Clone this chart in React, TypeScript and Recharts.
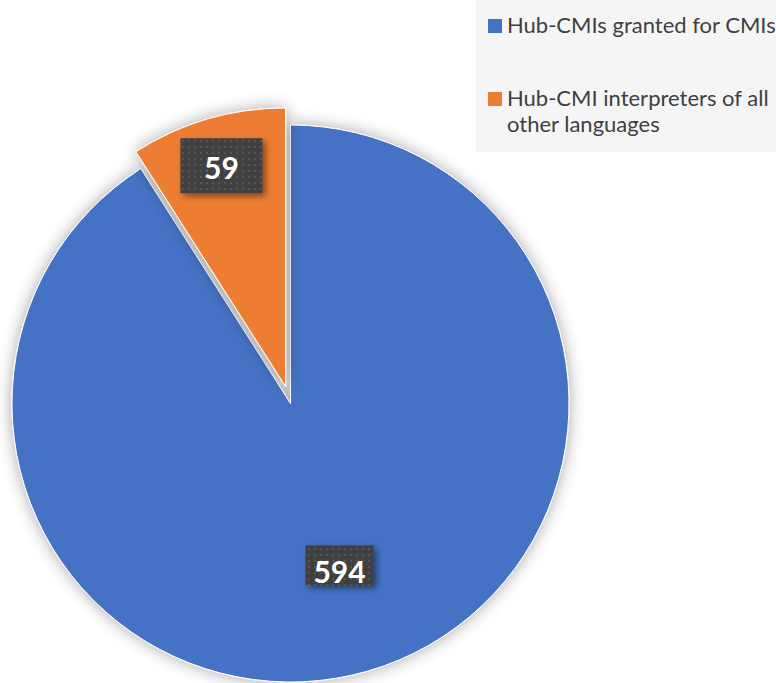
import { PieChart, Pie, Cell, Legend } from 'recharts';

const categories = ['Hub-CMIs granted for CMIs', 'Hub-CMI interpreters of all other languages'];
const values = [594, 59];
const colors = ['#4472C4', '#ED7D31'];

const data = categories.map((name, i) => ({ name, value: values[i] }));

const FONT = 'Lato, Calibri, "Open Sans", sans-serif';

// label placement (fraction of radius) and box size per slice
const labelRadius = [0.628, 0.822];
const boxSize = [
  { w: 68, h: 40, dy: -6 },
  { w: 82, h: 55, dy: -1 },
];

const makeLabel = (only: number) => (props: any) => {
  const { cx, cy, midAngle, outerRadius, index, value } = props;
  if (index !== only) return null;
  const RAD = Math.PI / 180;
  const r = outerRadius * labelRadius[index];
  const x = cx + r * Math.cos(-midAngle * RAD);
  const y = cy + r * Math.sin(-midAngle * RAD);
  const b = boxSize[index];
  return (
    <g>
      <rect
        x={x - b.w / 2}
        y={y - b.h / 2 + b.dy}
        width={b.w}
        height={b.h}
        fill="url(#dots)"
        filter="url(#boxShadow)"
      />
      <text
        x={x}
        y={y}
        textAnchor="middle"
        dominantBaseline="central"
        fill="#ffffff"
        fontFamily={FONT}
        fontWeight="bold"
        fontSize={30}
      >
        {value}
      </text>
    </g>
  );
};

const renderLegend = () => (
  <div
    style={{
      background: '#f5f5f5',
      width: 300,
      height: 152,
      boxSizing: 'border-box',
      paddingLeft: 12,
      paddingTop: 12,
      fontFamily: FONT,
      fontSize: 22,
      color: '#404040',
    }}
  >
    {categories.map((c, i) => (
      <div
        key={c}
        style={{
          display: 'flex',
          alignItems: 'flex-start',
          marginBottom: i === 0 ? 47 : 0,
          lineHeight: '26px',
        }}
      >
        <span
          style={{
            display: 'inline-block',
            width: 14,
            height: 14,
            background: colors[i],
            marginTop: 7,
            marginRight: 5,
            flexShrink: 0,
          }}
        />
        <span style={{ width: 272 }}>{c}</span>
      </div>
    ))}
  </div>
);

export default function App() {
  return (
    <div style={{ position: 'fixed', left: 0, top: 0, width: 776, height: 683, background: '#ffffff' }}>
      <PieChart width={776} height={683} margin={{ top: 0, right: 0, bottom: 0, left: 0 }}>
        <defs>
          <pattern id="dots" width={6} height={6} patternUnits="userSpaceOnUse">
            <rect width={6} height={6} fill="#3f3f3f" />
            <rect x={2} y={2} width={2} height={2} fill="#565656" />
          </pattern>
          <filter id="pieShadow" x="-20%" y="-20%" width="140%" height="140%">
            <feDropShadow dx={0} dy={0} stdDeviation={8} floodColor="#000" floodOpacity={0.35} />
          </filter>
          <filter id="boxShadow" x="-30%" y="-30%" width="160%" height="160%">
            <feDropShadow dx={3} dy={3} stdDeviation={3} floodColor="#000" floodOpacity={0.45} />
          </filter>
        </defs>
        <Pie
          data={data}
          dataKey="value"
          cx={290.5}
          cy={403.5}
          outerRadius={278.5}
          startAngle={90}
          endAngle={-270}
          stroke="#ffffff"
          strokeWidth={1}
          label={makeLabel(0)}
          labelLine={false}
          isAnimationActive={false}
        >
          {data.map((d, i) => (
            <Cell
              key={d.name}
              fill={i === 0 ? colors[0] : 'none'}
              stroke={i === 0 ? '#ffffff' : 'none'}
              filter={i === 0 ? 'url(#pieShadow)' : undefined}
            />
          ))}
        </Pie>
        <Pie
          data={data}
          dataKey="value"
          cx={285.6}
          cy={386.5}
          outerRadius={278.5}
          startAngle={90}
          endAngle={-270}
          stroke="#ffffff"
          strokeWidth={1}
          label={makeLabel(1)}
          labelLine={false}
          isAnimationActive={false}
        >
          {data.map((d, i) => (
            <Cell
              key={d.name}
              fill={i === 1 ? colors[1] : 'none'}
              stroke={i === 1 ? '#ffffff' : 'none'}
              filter={i === 1 ? 'url(#pieShadow)' : undefined}
            />
          ))}
        </Pie>
        <Legend
          content={renderLegend}
          wrapperStyle={{ position: 'absolute', left: 476, top: 0, width: 300 }}
        />
      </PieChart>
    </div>
  );
}
